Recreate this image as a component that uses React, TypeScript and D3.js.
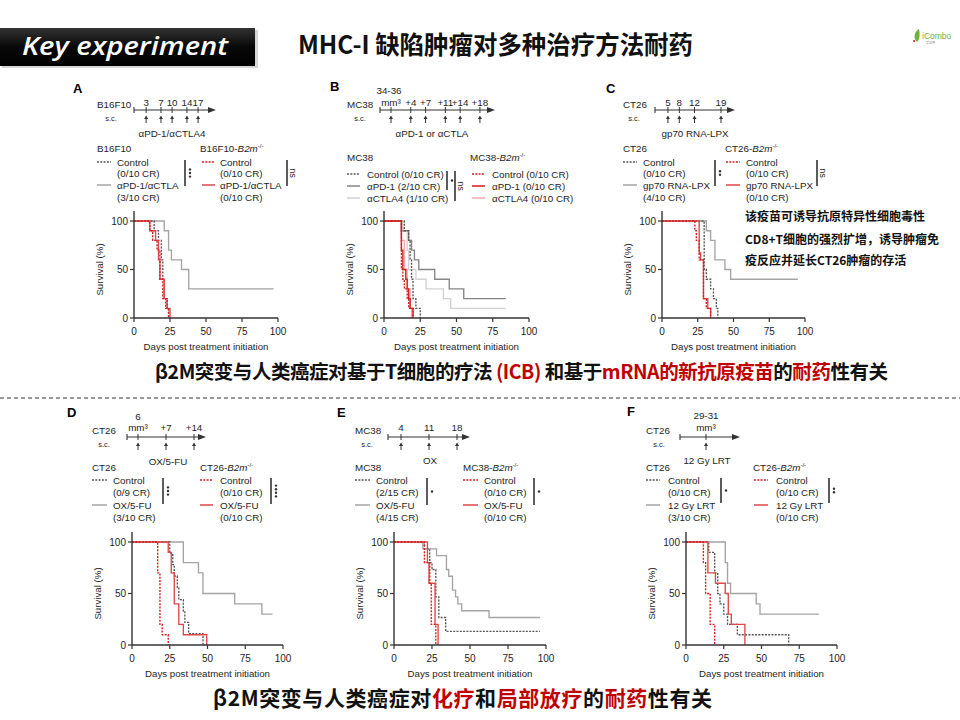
import React from "react";
import * as d3 from "d3";

type Pt = [number, number];

// ===== Survival curves: [day, % surviving after the step] =====
// A: B16F10 / B16F10-B2m-/-, αPD-1/αCTLA4
const A_ctrlWT: Pt[] = [[0, 100], [14, 90], [17, 80], [19, 60], [20, 40], [21, 20], [22, 10], [24, 0]];
const A_trtWT: Pt[] = [[0, 100], [21, 90], [24, 70], [26, 60], [33, 50], [38, 30], [97, 30]];
const A_ctrlKO: Pt[] = [[0, 100], [11, 90], [13, 80], [16, 70], [18, 40], [20, 20], [23, 10], [24, 0]];
const A_trtKO: Pt[] = [[0, 100], [11, 90], [15, 80], [17, 60], [18, 40], [21, 20], [23, 10], [25, 0]];

// B: MC38 / MC38-B2m-/-, αPD-1 or αCTLA4
const B_ctrlWT: Pt[] = [[0, 100], [14, 90], [17, 80], [18, 60], [19, 40], [20, 20], [22, 10], [25, 0]];
const B_pd1WT: Pt[] = [[0, 100], [12, 90], [17, 80], [19, 70], [21, 60], [24, 50], [35, 40], [45, 30], [55, 20], [84, 20]];
const B_ctlaWT: Pt[] = [[0, 100], [13, 90], [16, 70], [17, 50], [22, 40], [29, 30], [41, 20], [46, 10], [84, 10]];
const B_ctrlKO: Pt[] = [[0, 100], [12, 50], [13, 40], [14, 30], [16, 20], [17, 10], [20, 0]];
const B_pd1KO: Pt[] = [[0, 100], [12, 70], [13, 50], [15, 40], [16, 30], [17, 20], [18, 10], [20, 0]];
const B_ctlaKO: Pt[] = [[0, 100], [12, 80], [14, 50], [16, 30], [18, 10], [19, 0]];

// C: CT26 / CT26-B2m-/-, gp70 RNA-LPX
const C_ctrlWT: Pt[] = [[0, 100], [29.5, 50], [31, 40], [34, 30], [36, 20], [38, 10], [39, 0]];
const C_trtWT: Pt[] = [[0, 100], [31, 90], [34, 80], [37, 60], [44, 50], [48, 40], [95, 40]];
const C_ctrlKO: Pt[] = [[0, 100], [23, 90], [24, 80], [26, 60], [29, 20], [31, 10], [34, 0]];
const C_trtKO: Pt[] = [[0, 100], [26, 67], [27, 60], [29, 20], [32, 10], [34, 0]];

// D: CT26 / CT26-B2m-/-, OX/5-FU
const D_ctrlWT: Pt[] = [[0, 100], [25, 89], [27, 78], [28, 67], [30, 56], [31, 44], [34, 33], [35, 22], [37.5, 11], [47, 0]];
const D_trtWT: Pt[] = [[0, 100], [34, 80], [44, 70], [47, 50], [68, 40], [86, 30], [93, 30]];
const D_ctrlKO: Pt[] = [[0, 100], [17, 70], [18.5, 20], [20, 10], [24, 0]];
const D_trtKO: Pt[] = [[0, 100], [24, 90], [26, 70], [28, 40], [31, 20], [34, 10], [49.5, 0]];

// E: MC38 / MC38-B2m-/-, OX/5-FU
const E_ctrlWT: Pt[] = [[0, 100], [20, 93.3], [23.5, 80], [25, 73.3], [27.5, 46.7], [29.5, 26.7], [34, 13.3], [96, 13.3]];
const E_trtWT: Pt[] = [[0, 100], [19, 93.3], [28, 86.7], [34.5, 73.3], [36, 66.7], [38.5, 53.3], [40.5, 46.7], [42, 40], [44.5, 33.3], [62.5, 26.7], [96, 26.7]];
const E_ctrlKO: Pt[] = [[0, 100], [20, 80], [23.5, 60], [24.5, 20], [27.5, 0]];
const E_trtKO: Pt[] = [[0, 100], [22, 80], [23, 60], [27, 20], [29, 0]];

// F: CT26 / CT26-B2m-/-, 12 Gy LRT
const F_ctrlWT: Pt[] = [[0, 100], [15, 90], [19, 70], [21, 50], [22.5, 40], [25, 30], [27.5, 20], [34, 10], [68, 0]];
const F_trtWT: Pt[] = [[0, 100], [26, 80], [27.5, 60], [29.5, 50], [46.5, 40], [49, 30], [88, 30]];
const F_ctrlKO: Pt[] = [[0, 100], [11.5, 80], [13, 50], [16, 20], [19, 0]];
const F_trtKO: Pt[] = [[0, 100], [14.5, 70], [19.5, 60], [26, 50], [28, 30], [30, 20], [39, 0]];

// ===== Axis ticks =====
const xTicks = [0, 25, 50, 75, 100];
const yTicks = [0, 50, 100];

// ===== Timeline days / labels =====
const A_tl = [3, 7, 10, 14, 17];
const B_tl = [0, 4, 7, 11, 14, 18];
const B_tlLabels = ["mm³", "+4", "+7", "+11", "+14", "+18"];
const C_tl = [5, 8, 12, 19];
const D_tl = [0, 7, 14];
const D_tlLabels = ["mm³", "+7", "+14"];
const E_tl = [4, 11, 18];
const F_tl = [0];
const F_tlLabels = ["mm³"];

// ===== Legend labels =====
const A_wt = [["Control", "(0/10 CR)"], ["αPD-1/αCTLA", "(3/10 CR)"]];
const A_ko = [["Control", "(0/10 CR)"], ["αPD-1/αCTLA", "(0/10 CR)"]];
const B_wt = [["Control (0/10 CR)"], ["αPD-1 (2/10 CR)"], ["αCTLA4 (1/10 CR)"]];
const B_ko = [["Control (0/10 CR)"], ["αPD-1 (0/10 CR)"], ["αCTLA4 (0/10 CR)"]];
const C_wt = [["Control", "(0/10 CR)"], ["gp70 RNA-LPX", "(4/10 CR)"]];
const C_ko = [["Control", "(0/10 CR)"], ["gp70 RNA-LPX", "(0/10 CR)"]];
const D_wt = [["Control", "(0/9 CR)"], ["OX/5-FU", "(3/10 CR)"]];
const D_ko = [["Control", "(0/10 CR)"], ["OX/5-FU", "(0/10 CR)"]];
const E_wt = [["Control", "(2/15 CR)"], ["OX/5-FU", "(4/15 CR)"]];
const E_ko = [["Control", "(0/10 CR)"], ["OX/5-FU", "(0/10 CR)"]];
const F_wt = [["Control", "(0/10 CR)"], ["12 Gy LRT", "(3/10 CR)"]];
const F_ko = [["Control", "(0/10 CR)"], ["12 Gy LRT", "(0/10 CR)"]];

// ===== Styles =====
const FONT = "'Liberation Sans', Arial, Helvetica, sans-serif";
const CJK = "'Noto Sans CJK SC', 'Noto Sans', sans-serif";
const GRAY_D = "#555555";
const GRAY_S = "#a4a4a4";
const RED_D = "#d41d1d";
const RED_S = "#de4848";
const PD1 = "#858585";
const CTLA = "#d2d2d2";
const PINK = "#f3a9a9";
const DASH = "2,1.3";
const TXT = "#1e1e1e";

type Curve = { data: Pt[]; color: string; dash?: string };

function stepPath(pts: Pt[], x: (v: number) => number, y: (v: number) => number) {
  let d = `M${x(pts[0][0])},${y(pts[0][1])}`;
  for (let i = 1; i < pts.length; i++) d += `H${x(pts[i][0])}V${y(pts[i][1])}`;
  return d;
}

function SurvivalPlot({ x0, w, yTop, yBot, axisTop, curves }: { x0: number; w: number; yTop: number; yBot: number; axisTop: number; curves: Curve[] }) {
  const x = d3.scaleLinear().domain([0, 100]).range([x0, x0 + w]);
  const y = d3.scaleLinear().domain([0, 100]).range([yBot, yTop]);
  return (
    <g fontFamily={FONT} fill={TXT}>
      {curves.map((c, i) => (
        <path key={i} d={stepPath(c.data, x, y)} fill="none" stroke={c.color} strokeWidth={1.35} strokeDasharray={c.dash} />
      ))}
      <line x1={x0} x2={x0} y1={axisTop} y2={yBot} stroke="#333" strokeWidth={1.4} />
      <line x1={x0} x2={x0 + w} y1={yBot} y2={yBot} stroke="#333" strokeWidth={1.4} />
      {xTicks.map((t) => (
        <g key={t}>
          <line x1={x(t)} x2={x(t)} y1={yBot} y2={yBot + 4} stroke="#333" strokeWidth={1.2} />
          <text x={x(t)} y={yBot + 17} textAnchor="middle" fontSize={10}>{t}</text>
        </g>
      ))}
      {yTicks.map((t) => (
        <g key={t}>
          <line x1={x0 - 4} x2={x0} y1={y(t)} y2={y(t)} stroke="#333" strokeWidth={1.2} />
          <text x={x0 - 6} y={y(t) + 3.5} textAnchor="end" fontSize={10}>{t}</text>
        </g>
      ))}
      <text x={x0 + w / 2} y={yBot + 32} textAnchor="middle" fontSize={9.7}>Days post treatment initiation</text>
      <text transform={`translate(${x0 - 31},${(yTop + yBot) / 2}) rotate(-90)`} textAnchor="middle" fontSize={9.7}>Survival (%)</text>
    </g>
  );
}

function Timeline({ x1, x2, y, d0, ppd, days, labels, labelY, trt, trtX, trtY }: { x1: number; x2: number; y: number; d0: number; ppd: number; days: number[]; labels: string[]; labelY: number; trt: string; trtX: number; trtY: number }) {
  const s = d3.scaleLinear().domain([0, 1]).range([d0, d0 + ppd]);
  return (
    <g fontFamily={FONT} fontSize={9.8}>
      <line x1={x1} x2={x2 - 5} y1={y} y2={y} stroke="#333" strokeWidth={1.2} />
      <line x1={x1} x2={x1} y1={y - 3} y2={y + 3} stroke="#333" strokeWidth={1.1} />
      <path d={`M${x2 - 8},${y - 3}L${x2},${y}L${x2 - 8},${y + 3}Z`} fill="#333" />
      {days.map((d, i) => (
        <g key={i}>
          <line x1={s(d)} x2={s(d)} y1={y - 3} y2={y + 3} stroke="#333" strokeWidth={1} />
          <text x={s(d)} y={labelY} textAnchor="middle" fill={TXT}>{labels[i]}</text>
          <line x1={s(d)} x2={s(d)} y1={y + 8} y2={y + 13} stroke="#333" strokeWidth={1} />
          <path d={`M${s(d) - 2},${y + 9}L${s(d)},${y + 5.5}L${s(d) + 2},${y + 9}Z`} fill="#333" />
        </g>
      ))}
      <text x={trtX} y={trtY} textAnchor="middle" fill={TXT}>{trt}</text>
    </g>
  );
}

type Entry = { color: string; dash?: string; lines: string[] };
function Legend({ hx, headerY, header, sx1, sx2, tx, rowYs, entries }: { hx: number; headerY: number; header: React.ReactNode; sx1: number; sx2: number; tx: number; rowYs: number[]; entries: Entry[] }) {
  let k = 0;
  return (
    <g fontFamily={FONT} fontSize={9.8} fill={TXT}>
      <text x={hx} y={headerY + 3.5}>{header}</text>
      {entries.map((e, i) => {
        const st = k;
        k += e.lines.length;
        return (
          <g key={i}>
            <line x1={sx1} x2={sx2} y1={rowYs[st]} y2={rowYs[st]} stroke={e.color} strokeWidth={1.5} strokeDasharray={e.dash} />
            {e.lines.map((t, j) => (
              <text key={j} x={tx} y={rowYs[st + j] + 3.5}>{t}</text>
            ))}
          </g>
        );
      })}
    </g>
  );
}

function koHeader(prefix: string) {
  return (
    <>
      {prefix}-<tspan fontStyle="italic">B2m</tspan>
      <tspan fontSize={6} dy={-4}>-/-</tspan>
    </>
  );
}

function Sig({ x, y1, y2, mark }: { x: number; y1: number; y2: number; mark: number | "ns" }) {
  const mid = (y1 + y2) / 2;
  return (
    <g>
      <line x1={x} x2={x} y1={y1} y2={y2} stroke="#333" strokeWidth={1.6} />
      {mark === "ns" ? (
        <text transform={`translate(${x + 3},${mid}) rotate(90)`} textAnchor="middle" fontSize={9} fontFamily={FONT} fill={TXT}>ns</text>
      ) : (
        d3.range(mark).map((i) => <circle key={i} cx={x + 5} cy={mid + (i - (mark - 1) / 2) * 3.6} r={1.2} fill="#333" />)
      )}
    </g>
  );
}

const topRows = [162, 173, 185, 197];
const botRows = [480, 492, 505, 517];

function mk(labels: string[][], styles: { color: string; dash?: string }[]): Entry[] {
  return labels.map((l, i) => ({ ...styles[i], lines: l }));
}

export default function App() {
  const wtStyles = [{ color: GRAY_D, dash: DASH }, { color: GRAY_S }];
  const koStyles = [{ color: RED_D, dash: DASH }, { color: RED_S }];
  return (
    <svg width={960} height={720} style={{ position: "absolute", left: 0, top: 0, background: "#fff" }}>
      <rect width={960} height={720} fill="#fff" />
      <defs>
        <linearGradient id="kg" x1="0" y1="0" x2="0" y2="1">
          <stop offset="0" stopColor="#333" />
          <stop offset="0.5" stopColor="#080808" />
          <stop offset="1" stopColor="#000" />
        </linearGradient>
      </defs>
      {/* Header */}
      <rect x={2} y={30} width={256} height={38} fill="#bbb" opacity={0.6} />
      <rect x={0} y={28} width={255} height={38} fill="url(#kg)" />
      <text x={22} y={55} fill="#fff" fontFamily="'Open Sans', 'Liberation Sans', sans-serif" fontStyle="italic" fontWeight={600} fontSize={26} textLength={206} lengthAdjust="spacingAndGlyphs">Key experiment</text>
      <text x={298} y={54} fill="#111" fontFamily={CJK} fontWeight={700} fontSize={25} textLength={395} lengthAdjust="spacingAndGlyphs">MHC-I 缺陷肿瘤对多种治疗方法耐药</text>
      {/* logo */}
      <g transform="translate(912,29)">
        <path d="M5,13 C1,9 2,3 7,0 C8,5 8,10 5,13Z" fill="#6db33f" />
        <rect x={1} y={11} width={2} height={2} fill="#e0523a" />
        <text x={10} y={10} fontSize={8.5} fill="#6db33f" fontFamily={FONT}>iCombo</text>
        <text x={14} y={15} fontSize={3} fill="#9a9a9a" fontFamily={CJK}>爱康博</text>
      </g>

      {/* ===== Panel A ===== */}
      <text x={73} y={93} fontFamily={FONT} fontWeight={700} fontSize={13}>A</text>
      <text x={97} y={108} fontFamily={FONT} fontSize={9.8} fill={TXT}>B16F10</text>
      <text x={111} y={121} fontFamily={FONT} fontSize={7.5} textAnchor="middle" fill={TXT}>s.c.</text>
      <Timeline x1={134} x2={216} y={110} d0={135} ppd={3.71} days={A_tl} labels={A_tl.map(String)} labelY={105.5} trt="αPD-1/αCTLA4" trtX={172} trtY={137} />
      <Legend hx={97} headerY={148} header="B16F10" sx1={97} sx2={111} tx={117} rowYs={topRows} entries={mk(A_wt, wtStyles)} />
      <Legend hx={200} headerY={148} header={koHeader("B16F10")} sx1={202} sx2={215} tx={220} rowYs={topRows} entries={mk(A_ko, koStyles)} />
      <Sig x={185} y1={160} y2={186} mark={3} />
      <Sig x={287} y1={160} y2={186} mark="ns" />
      <SurvivalPlot x0={134} w={144} yTop={221} yBot={318} axisTop={211} curves={[
        { data: A_trtWT, color: GRAY_S },
        { data: A_ctrlWT, color: GRAY_D, dash: DASH },
        { data: A_trtKO, color: RED_S },
        { data: A_ctrlKO, color: RED_D, dash: DASH },
      ]} />

      {/* ===== Panel B ===== */}
      <text x={330} y={91} fontFamily={FONT} fontWeight={700} fontSize={13}>B</text>
      <text x={389} y={93.5} fontFamily={FONT} fontSize={9.8} textAnchor="middle" fill={TXT}>34-36</text>
      <text x={347} y={108} fontFamily={FONT} fontSize={9.8} fill={TXT}>MC38</text>
      <text x={360} y={121} fontFamily={FONT} fontSize={7.5} textAnchor="middle" fill={TXT}>s.c.</text>
      <Timeline x1={380} x2={495} y={110} d0={391} ppd={4.94} days={B_tl} labels={B_tlLabels} labelY={105.5} trt="αPD-1 or αCTLA" trtX={432} trtY={137} />
      <Legend hx={347} headerY={157} header="MC38" sx1={347} sx2={360} tx={367} rowYs={[174, 186, 198]} entries={mk(B_wt, [{ color: GRAY_D, dash: DASH }, { color: PD1 }, { color: CTLA }])} />
      <Legend hx={470} headerY={157} header={koHeader("MC38")} sx1={472} sx2={485} tx={492} rowYs={[174, 186, 198]} entries={mk(B_ko, [{ color: RED_D, dash: DASH }, { color: RED_D }, { color: PINK }])} />
      <Sig x={447} y1={171} y2={190} mark={1} />
      <Sig x={455} y1={171} y2={201} mark="ns" />
      <SurvivalPlot x0={384} w={145} yTop={221} yBot={318} axisTop={211} curves={[
        { data: B_ctlaWT, color: CTLA },
        { data: B_pd1WT, color: PD1 },
        { data: B_ctrlWT, color: GRAY_D, dash: DASH },
        { data: B_ctlaKO, color: PINK },
        { data: B_pd1KO, color: RED_D },
        { data: B_ctrlKO, color: RED_D, dash: DASH },
      ]} />

      {/* ===== Panel C ===== */}
      <text x={606} y={93} fontFamily={FONT} fontWeight={700} fontSize={13}>C</text>
      <text x={623} y={108} fontFamily={FONT} fontSize={9.8} fill={TXT}>CT26</text>
      <text x={634} y={121} fontFamily={FONT} fontSize={7.5} textAnchor="middle" fill={TXT}>s.c.</text>
      <Timeline x1={655} x2={735} y={110} d0={649} ppd={3.79} days={C_tl} labels={C_tl.map(String)} labelY={105.5} trt="gp70 RNA-LPX" trtX={695} trtY={137} />
      <Legend hx={623} headerY={148} header="CT26" sx1={623} sx2={637} tx={643} rowYs={topRows} entries={mk(C_wt, wtStyles)} />
      <Legend hx={725} headerY={148} header={koHeader("CT26")} sx1={726} sx2={740} tx={746} rowYs={topRows} entries={mk(C_ko, koStyles)} />
      <Sig x={715} y1={160} y2={186} mark={2} />
      <Sig x={817} y1={160} y2={186} mark="ns" />
      <SurvivalPlot x0={662} w={143} yTop={221} yBot={318} axisTop={211} curves={[
        { data: C_trtWT, color: GRAY_S },
        { data: C_ctrlWT, color: GRAY_D, dash: DASH },
        { data: C_trtKO, color: RED_S },
        { data: C_ctrlKO, color: RED_D, dash: DASH },
      ]} />
      <g fontFamily={CJK} fontWeight={700} fontSize={12} fill="#111">
        <text x={745} y={221}>该疫苗可诱导抗原特异性细胞毒性</text>
        <text x={745} y={244}>CD8+T细胞的强烈扩增，诱导肿瘤免</text>
        <text x={745} y={265}>疫反应并延长CT26肿瘤的存活</text>
      </g>

      {/* Caption 1 */}
      <text x={155} y={379} fontFamily={CJK} fontWeight={700} fontSize={19.5} fill="#111" textLength={733}>
        β2M突变与人类癌症对基于T细胞的疗法 <tspan fill="#c00000">(ICB)</tspan> 和基于<tspan fill="#c00000">mRNA的新抗原疫苗</tspan>的<tspan fill="#c00000">耐药</tspan>性有关
      </text>
      <line x1={0} x2={960} y1={398} y2={398} stroke="#333" strokeWidth={1} strokeDasharray="4,3" />

      {/* ===== Panel D ===== */}
      <text x={67} y={417} fontFamily={FONT} fontWeight={700} fontSize={13}>D</text>
      <text x={138} y={419.5} fontFamily={FONT} fontSize={9.8} textAnchor="middle" fill={TXT}>6</text>
      <text x={92} y={434} fontFamily={FONT} fontSize={9.8} fill={TXT}>CT26</text>
      <text x={104} y={446.5} fontFamily={FONT} fontSize={7.5} textAnchor="middle" fill={TXT}>s.c.</text>
      <Timeline x1={127} x2={206} y={437} d0={138} ppd={4} days={D_tl} labels={D_tlLabels} labelY={431} trt="OX/5-FU" trtX={168} trtY={465} />
      <Legend hx={92} headerY={467} header="CT26" sx1={92} sx2={107} tx={113} rowYs={botRows} entries={mk(D_wt, wtStyles)} />
      <Legend hx={200} headerY={467} header={koHeader("CT26")} sx1={200} sx2={213} tx={220} rowYs={botRows} entries={mk(D_ko, koStyles)} />
      <Sig x={163} y1={478} y2={504} mark={3} />
      <Sig x={271} y1={478} y2={504} mark={4} />
      <SurvivalPlot x0={132} w={151} yTop={542} yBot={645} axisTop={532} curves={[
        { data: D_trtWT, color: GRAY_S },
        { data: D_ctrlWT, color: GRAY_D, dash: DASH },
        { data: D_trtKO, color: RED_S },
        { data: D_ctrlKO, color: RED_D, dash: DASH },
      ]} />

      {/* ===== Panel E ===== */}
      <text x={337} y={417} fontFamily={FONT} fontWeight={700} fontSize={13}>E</text>
      <text x={355} y={434} fontFamily={FONT} fontSize={9.8} fill={TXT}>MC38</text>
      <text x={367} y={446.5} fontFamily={FONT} fontSize={7.5} textAnchor="middle" fill={TXT}>s.c.</text>
      <Timeline x1={388} x2={470} y={437} d0={385} ppd={4} days={E_tl} labels={E_tl.map(String)} labelY={431} trt="OX" trtX={430} trtY={464} />
      <Legend hx={355} headerY={467} header="MC38" sx1={355} sx2={370} tx={376} rowYs={botRows} entries={mk(E_wt, wtStyles)} />
      <Legend hx={463} headerY={467} header={koHeader("MC38")} sx1={463} sx2={478} tx={484} rowYs={botRows} entries={mk(E_ko, koStyles)} />
      <Sig x={427} y1={478} y2={505} mark={1} />
      <Sig x={534} y1={478} y2={505} mark={1} />
      <SurvivalPlot x0={394} w={152} yTop={542} yBot={645} axisTop={532} curves={[
        { data: E_trtWT, color: GRAY_S },
        { data: E_ctrlWT, color: GRAY_D, dash: DASH },
        { data: E_trtKO, color: RED_S },
        { data: E_ctrlKO, color: RED_D, dash: DASH },
      ]} />

      {/* ===== Panel F ===== */}
      <text x={627} y={416} fontFamily={FONT} fontWeight={700} fontSize={13}>F</text>
      <text x={706} y={418.5} fontFamily={FONT} fontSize={9.8} textAnchor="middle" fill={TXT}>29-31</text>
      <text x={646} y={434} fontFamily={FONT} fontSize={9.8} fill={TXT}>CT26</text>
      <text x={659} y={446.5} fontFamily={FONT} fontSize={7.5} textAnchor="middle" fill={TXT}>s.c.</text>
      <Timeline x1={680} x2={740} y={437} d0={706} ppd={1} days={F_tl} labels={F_tlLabels} labelY={431} trt="12 Gy LRT" trtX={707} trtY={464} />
      <Legend hx={646} headerY={467} header="CT26" sx1={646} sx2={660} tx={668} rowYs={botRows} entries={mk(F_wt, wtStyles)} />
      <Legend hx={753} headerY={467} header={koHeader("CT26")} sx1={754} sx2={768} tx={776} rowYs={botRows} entries={mk(F_ko, koStyles)} />
      <Sig x={721} y1={478} y2={503} mark={1} />
      <Sig x={829} y1={478} y2={503} mark={2} />
      <SurvivalPlot x0={686} w={151} yTop={542} yBot={645} axisTop={532} curves={[
        { data: F_trtWT, color: GRAY_S },
        { data: F_ctrlWT, color: GRAY_D, dash: DASH },
        { data: F_trtKO, color: RED_S },
        { data: F_ctrlKO, color: RED_D, dash: DASH },
      ]} />

      {/* Caption 2 */}
      <text x={213} y={706} fontFamily={CJK} fontWeight={700} fontSize={21} fill="#111" textLength={499}>
        β2M突变与人类癌症对<tspan fill="#c00000">化疗</tspan>和<tspan fill="#c00000">局部放疗</tspan>的<tspan fill="#c00000">耐药</tspan>性有关
      </text>
    </svg>
  );
}
